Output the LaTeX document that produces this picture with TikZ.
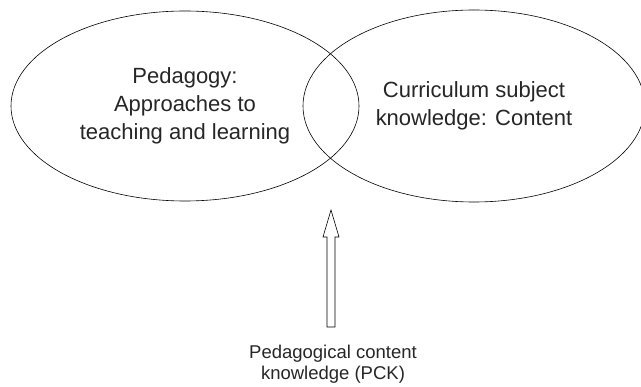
\documentclass[tikz,border=0pt]{standalone}
\usepackage{fontspec}
\setmainfont{Liberation Sans}
\usetikzlibrary{shapes.geometric,positioning}
\begin{document}
\begin{tikzpicture}[x=1pt,y=-1pt,
  circ/.style={draw, ellipse, line width=0.6pt, align=center, inner sep=0pt},
  lbl/.style={align=center, text=black!85, font=\fontsize{22}{28}\selectfont}]
\useasboundingbox (0,0) rectangle (641,387);

% the two fields
\node[circ, lbl, minimum width=348pt, minimum height=190pt] (pedagogy) at (185,106)
  {Pedagogy:\\Approaches to\\teaching and learning};
\node[circ, lbl, minimum width=342pt, minimum height=192pt] (content) at (474,106)
  {Curriculum subject\\knowledge: Content};

%Beschriftung
\node[lbl, font=\fontsize{18.5}{21}\selectfont] (pck) at (333,364) {Pedagogical content\\knowledge (PCK)};

% hollow arrow up to the overlap
\coordinate (tip) at (331,210);
\draw[line width=0.6pt] (tip) -- ++(-8,27) -- ++(4,0) -- ++(0,90) -- ++(8,0)
  -- ++(0,-90) -- ++(4,0) -- cycle;
\end{tikzpicture}
\end{document}
